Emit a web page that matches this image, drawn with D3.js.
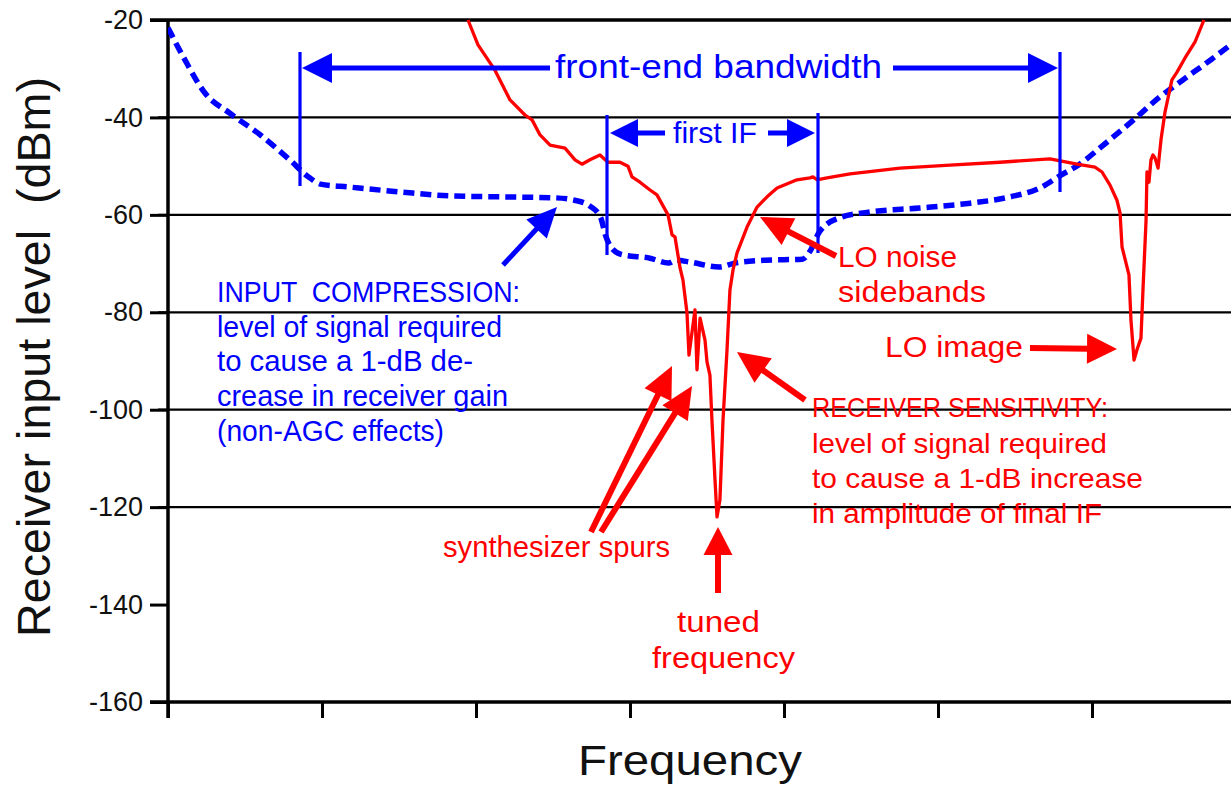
<!DOCTYPE html>
<html>
<head>
<meta charset="utf-8">
<script src="https://cdn.jsdelivr.net/npm/d3@7"></script>
<style>
  html, body { margin: 0; padding: 0; background: #fff; }
  svg { display: block; }
  text { font-family: "Liberation Sans", Arial, sans-serif; white-space: pre; }
</style>
</head>
<body>
<svg id="chart" width="1231" height="788"></svg>
<script>
// ---------- data (frequency in tick units, level in dBm) ----------
const yTicks = [-20, -40, -60, -80, -100, -120, -140, -160];
const gridLevels = [-40, -60, -80, -100, -120];
const xTicks = [0, 1, 2, 3, 4, 5, 6];

// Input compression (blue dashed)
const compFreq = [0, 0.11, 0.24, 0.40, 0.60, 0.79, 0.92, 0.99, 1.18, 1.51, 1.83, 2.16, 2.51, 2.64, 2.74, 2.81, 2.84, 2.88, 2.95,
  3.13, 3.25, 3.30, 3.39, 3.58, 3.68, 3.88, 4.12, 4.17, 4.23, 4.36, 4.56, 4.88, 5.21, 5.47, 5.66, 5.79, 5.92, 6.05, 6.27,
  6.44, 6.59, 6.77, 6.90];
const compLevel = [-21.6, -28.2, -35.0, -39.1, -43.6, -48.7, -52.4, -53.7, -54.3, -55.3, -56.1, -56.3, -56.5, -57.0, -58.2,
  -60.6, -64.1, -66.8, -68.2, -68.9, -69.9, -69.3, -69.7, -70.7, -69.9, -69.3, -69.1, -67.4, -63.5, -60.6, -59.4, -58.6,
  -57.6, -56.3, -54.5, -52.0, -49.6, -46.3, -40.5, -35.8, -32.3, -28.2, -25.1];

// Receiver sensitivity (red)
const sensFreq = [1.948, 2.013, 2.123, 2.221, 2.318, 2.364, 2.416, 2.481, 2.578, 2.643, 2.688, 2.740, 2.805, 2.857, 2.935,
  2.987, 3.013, 3.065, 3.130, 3.175, 3.247, 3.273, 3.292, 3.325, 3.344, 3.370, 3.383, 3.422, 3.435, 3.455, 3.487, 3.500,
  3.519, 3.532, 3.552, 3.565, 3.584, 3.604, 3.630, 3.649, 3.669, 3.695, 3.760, 3.825, 3.890, 3.955, 4.084, 4.169, 4.188,
  4.214, 4.279, 4.429, 4.753, 5.078, 5.403, 5.727, 5.903, 6.019, 6.065, 6.117, 6.162, 6.182, 6.195, 6.240, 6.253,
  6.273, 6.292, 6.318, 6.331, 6.351, 6.357, 6.370, 6.383, 6.396, 6.409, 6.429, 6.448, 6.474, 6.519, 6.552, 6.604, 6.669, 6.727];
const sensLevel = [-20.0, -25.1, -30.3, -36.4, -39.5, -40.5, -43.6, -45.7, -46.3, -48.7, -49.6, -48.7, -47.7, -49.2, -49.2,
  -50.0, -52.2, -53.3, -54.9, -55.9, -60.0, -64.1, -64.5, -70.9, -73.4, -80.1, -88.8, -79.5, -91.8, -81.2, -85.7, -90.2,
  -92.9, -102.1, -114.4, -122.0, -118.5, -102.1, -87.7, -75.4, -71.3, -67.8, -62.5, -58.4, -56.3, -54.5, -52.8, -52.4, -52.2,
  -52.8, -52.4, -51.6, -50.4, -49.8, -49.2, -48.5, -49.6, -50.2, -51.2, -53.9, -57.0, -59.6, -66.6, -72.3, -81.6,
  -89.8, -87.7, -85.3, -75.4, -61.1, -51.2, -53.3, -48.7, -47.7, -48.3, -50.4, -44.6, -38.9, -32.3, -30.7, -27.8, -24.5, -20.0];

(function () {
// ---------- setup ----------
const svg = d3.select("#chart");
const BLUE = "#0000ff", RED = "#ff0000";
const pLeft = 168, pRight = 1231, pTop = 20, pBottom = 702;

const x = d3.scaleLinear().domain([0, 7]).range([pLeft, pLeft + 7 * 154]);
const y = d3.scaleLinear().domain([-160, -20]).range([pBottom, pTop]);

svg.append("defs").append("clipPath").attr("id", "plotClip")
  .append("rect").attr("x", pLeft).attr("y", pTop - 2).attr("width", pRight - pLeft).attr("height", pBottom - pTop + 2);

// gridlines
svg.append("g").selectAll("line").data(gridLevels).join("line")
  .attr("x1", pLeft - 10).attr("x2", pRight)
  .attr("y1", d => y(d)).attr("y2", d => y(d))
  .attr("stroke", "#000").attr("stroke-width", 2.2);

// y axis ticks & labels
const yAxis = svg.append("g").attr("transform", `translate(${pLeft},0)`)
  .call(d3.axisLeft(y).tickValues(yTicks).tickSize(18).tickPadding(7).tickFormat(d => String(d)));
yAxis.select(".domain").remove();
yAxis.selectAll(".tick line").attr("stroke", "#000").attr("stroke-width", 3);
yAxis.selectAll(".tick text").attr("font-size", 27).attr("fill", "#111")
  .attr("font-family", "Liberation Sans, Arial, sans-serif");

// x axis ticks
const xAxis = svg.append("g").attr("transform", `translate(0,${pBottom})`)
  .call(d3.axisBottom(x).tickValues(xTicks).tickSize(16).tickFormat(""));
xAxis.select(".domain").remove();
xAxis.selectAll(".tick line").attr("stroke", "#000").attr("stroke-width", 3);

// frame lines
svg.append("line").attr("x1", pLeft - 18).attr("x2", pRight).attr("y1", y(-20)).attr("y2", y(-20))
  .attr("stroke", "#000").attr("stroke-width", 3.5);
svg.append("line").attr("x1", pLeft - 18).attr("x2", pRight).attr("y1", y(-160)).attr("y2", y(-160))
  .attr("stroke", "#000").attr("stroke-width", 3.5);
svg.append("line").attr("x1", pLeft).attr("x2", pLeft).attr("y1", y(-20) - 1).attr("y2", pBottom + 16)
  .attr("stroke", "#000").attr("stroke-width", 3.5);

// ---------- curves ----------
const plot = svg.append("g").attr("clip-path", "url(#plotClip)");

const compData = compFreq.map((f, i) => ({ f, v: compLevel[i] }));
const sensData = sensFreq.map((f, i) => ({ f, v: sensLevel[i] }));

plot.append("path").datum(compData)
  .attr("d", d3.line().x(d => x(d.f)).y(d => y(d.v)).curve(d3.curveMonotoneX))
  .attr("fill", "none").attr("stroke", BLUE).attr("stroke-width", 5.5)
  .attr("stroke-dasharray", "11,6");

plot.append("path").datum(sensData)
  .attr("d", d3.line().x(d => x(d.f)).y(d => y(d.v)))
  .attr("fill", "none").attr("stroke", RED).attr("stroke-width", 3.3).attr("stroke-linejoin", "round");

// ---------- annotation helpers ----------
const ann = svg.append("g");
function arrow(x1, y1, x2, y2, color, w, hl, hw) {
  const dx = x2 - x1, dy = y2 - y1, L = Math.hypot(dx, dy);
  const ux = dx / L, uy = dy / L;
  const bx = x2 - ux * hl, by = y2 - uy * hl;
  ann.append("line").attr("x1", x1).attr("y1", y1).attr("x2", bx + ux * 2).attr("y2", by + uy * 2)
    .attr("stroke", color).attr("stroke-width", w);
  ann.append("path")
    .attr("d", `M${x2},${y2}L${bx - uy * hw / 2},${by + ux * hw / 2}L${bx + uy * hw / 2},${by - ux * hw / 2}Z`)
    .attr("fill", color);
}
function label(xp, yp, str, size, color, width, anchor) {
  const t = ann.append("text").attr("x", xp).attr("y", yp).text(str)
    .attr("font-size", size).attr("fill", color).attr("text-anchor", anchor || "start")
    .attr("xml:space", "preserve");
  if (width) t.attr("textLength", width).attr("lengthAdjust", "spacingAndGlyphs");
  return t;
}
function vline(xp, y1, y2, color, w) {
  ann.append("line").attr("x1", xp).attr("x2", xp).attr("y1", y1).attr("y2", y2)
    .attr("stroke", color).attr("stroke-width", w);
}

// front-end bandwidth bracket
vline(300, 52, 186, BLUE, 3.2);
vline(1060, 52, 192, BLUE, 3.2);
arrow(550, 68, 302, 68, BLUE, 5, 30, 30);
arrow(893, 68, 1058, 68, BLUE, 5, 30, 30);
label(555, 78, "front-end bandwidth", 33, BLUE, 327);

// first IF bracket
vline(607, 115, 255, BLUE, 3.2);
vline(818, 113, 253, BLUE, 3.2);
arrow(665, 133, 610, 133, BLUE, 5, 28, 28);
arrow(768, 133, 815, 133, BLUE, 5, 28, 28);
label(673, 143, "first IF", 30, BLUE, 84);

// input compression note
arrow(503, 265, 557, 207, BLUE, 5, 30, 28);
label(217, 302, "INPUT  COMPRESSION:", 29, BLUE, 303);
label(217, 337, "level of signal required", 29, BLUE, 285);
label(217, 371, "to cause a 1-dB de-", 29, BLUE, 256);
label(217, 406, "crease in receiver gain", 29, BLUE, 291);
label(217, 441, "(non-AGC effects)", 29, BLUE, 227);

// red annotations
arrow(836, 256, 760, 217, RED, 6, 32, 30);
label(838, 267, "LO noise", 29, RED, 119);
label(838, 302, "sidebands", 29, RED, 148);

arrow(1030, 348, 1117, 349, RED, 6, 30, 30);
label(885, 357, "LO image", 29, RED, 138);

arrow(805, 400, 737, 352, RED, 6, 32, 30);
label(812, 417, "RECEIVER SENSITIVITY:", 28, RED, 296);
label(812, 453, "level of signal required", 28, RED, 295);
label(812, 488, "to cause a 1-dB increase", 28, RED, 331);
label(812, 523, "in amplitude of final IF", 28, RED, 290);

arrow(591, 532, 672, 366, RED, 6, 32, 30);
arrow(601, 532, 692, 386, RED, 6, 32, 30);
label(443, 557, "synthesizer spurs", 29, RED, 227);

arrow(718, 593, 718, 527, RED, 6, 28, 29);
label(677, 632, "tuned", 29, RED, 83);
label(652, 668, "frequency", 29, RED, 143);

// axis titles
label(578, 775, "Frequency", 42, "#111", 224);
ann.append("text").attr("transform", "translate(50,357) rotate(-90)")
  .attr("text-anchor", "middle").attr("font-size", 46).attr("fill", "#111")
  .attr("xml:space", "preserve")
  .attr("textLength", 560).attr("lengthAdjust", "spacingAndGlyphs")
  .text("Receiver input level  (dBm)");
})();
</script>
</body>
</html>
